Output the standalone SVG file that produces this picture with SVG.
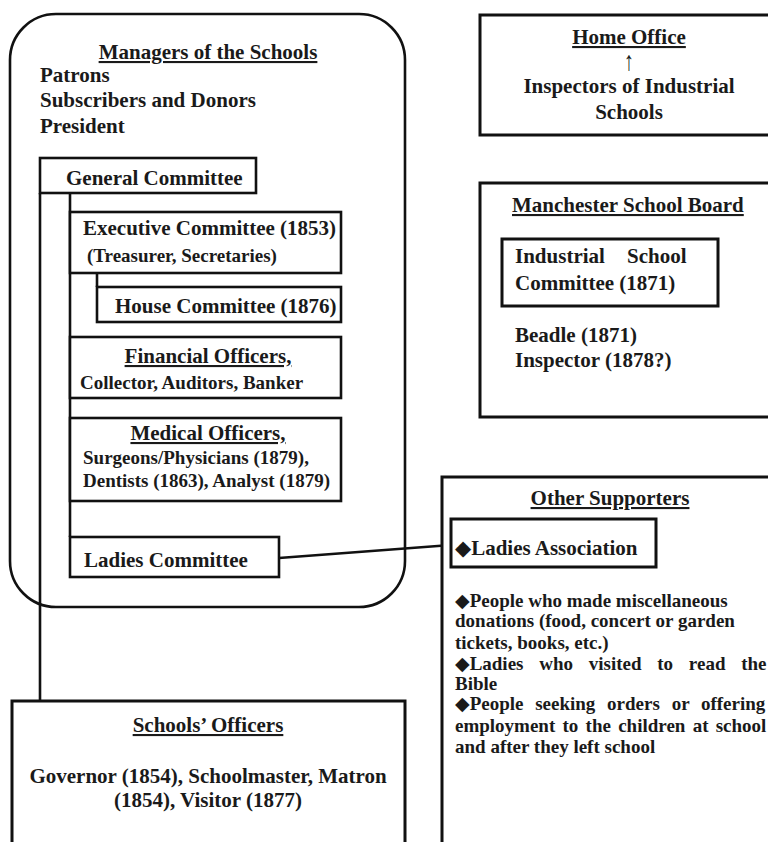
<svg xmlns="http://www.w3.org/2000/svg" width="768" height="842" viewBox="0 0 768 842">
<style>
  .box{fill:#fff;stroke:#111;stroke-width:3}
  .ibox{fill:#fff;stroke:#111;stroke-width:2.6}
  .ln{stroke:#111;stroke-width:2.6;fill:none}
  text{font-family:"Liberation Serif","Times New Roman",serif;font-weight:bold;fill:#1a1a1a;font-size:21px}
  .s{font-size:19px}
  .u{text-decoration:underline}
  .c{text-anchor:middle}
  .b{font-family:"Liberation Serif","DejaVu Sans",serif}
  .t{font-family:"Liberation Serif",serif}
</style>
<rect width="768" height="842" fill="#fff"/>

<g id="managers">
  <rect x="10" y="14" width="395" height="593" rx="46" ry="46" fill="#fff" stroke="#111" stroke-width="2.6"/>
  <text class="c u" x="208" y="59">Managers of the Schools</text>
  <text x="40" y="82">Patrons</text>
  <text x="40" y="107">Subscribers and Donors</text>
  <text x="40" y="133">President</text>
</g>

<g id="connectors">
  <line class="ln" x1="40" y1="193" x2="40" y2="701"/>
  <line class="ln" x1="70" y1="193" x2="70" y2="537"/>
  <line class="ln" x1="97" y1="273" x2="97" y2="287"/>
  <line class="ln" x1="279" y1="558" x2="451" y2="545"/>
</g>

<g id="general-committee">
  <rect class="ibox" x="40" y="158" width="216" height="35"/>
  <text x="66" y="185">General Committee</text>
</g>

<g id="executive-committee">
  <rect class="ibox" x="70" y="212" width="271" height="61"/>
  <text x="83" y="235">Executive Committee (1853)</text>
  <text class="s" x="87" y="262">(Treasurer, Secretaries)</text>
</g>

<g id="house-committee">
  <rect class="ibox" x="97" y="287" width="244" height="35"/>
  <text x="115" y="313">House Committee (1876)</text>
</g>

<g id="financial-officers">
  <rect class="ibox" x="70" y="337" width="271" height="61"/>
  <text class="c u" x="208" y="363">Financial Officers,</text>
  <text class="s" x="80" y="389">Collector, Auditors, Banker</text>
</g>

<g id="medical-officers">
  <rect class="ibox" x="70" y="418" width="271" height="83"/>
  <text class="c u" x="208" y="440">Medical Officers,</text>
  <text class="s" x="83" y="464">Surgeons/Physicians (1879),</text>
  <text class="s" x="83" y="487">Dentists (1863), Analyst (1879)</text>
</g>

<g id="ladies-committee">
  <rect class="ibox" x="70" y="537" width="209" height="40"/>
  <text x="84" y="567">Ladies Committee</text>
</g>

<g id="schools-officers">
  <rect class="box" x="12" y="701" width="393" height="160"/>
  <text class="c u" x="208" y="732">Schools’ Officers</text>
  <text class="c" x="208" y="783">Governor (1854), Schoolmaster, Matron</text>
  <text class="c" x="208" y="807">(1854), Visitor (1877)</text>
</g>

<g id="home-office">
  <rect class="box" x="480" y="15" width="300" height="120"/>
  <text class="c u" x="629" y="44">Home Office</text>
  <text class="c" transform="translate(629,70) scale(1,1.35)" x="0" y="0" style="font-weight:normal;font-size:20px">↑</text>
  <text class="c" x="629" y="93">Inspectors of Industrial</text>
  <text class="c" x="629" y="119">Schools</text>
</g>

<g id="manchester-school-board">
  <rect class="box" x="480" y="183" width="300" height="234"/>
  <text class="u" x="512" y="212">Manchester School Board</text>
  <text x="515" y="342">Beadle (1871)</text>
  <text x="515" y="367">Inspector (1878?)</text>
</g>

<g id="industrial-school-committee">
  <rect class="box" x="502" y="239" width="216" height="67"/>
  <text x="515" y="263" style="word-spacing:17px">Industrial School</text>
  <text x="515" y="290">Committee (1871)</text>
</g>

<g id="other-supporters">
  <rect class="box" x="442" y="477" width="340" height="380"/>
  <text class="c u" x="610" y="505">Other Supporters</text>
  <text class="s b" x="455" y="607">◆<tspan class="t">People who made miscellaneous</tspan></text>
  <text class="s" x="455" y="627">donations (food, concert or garden</text>
  <text class="s" x="455" y="649">tickets, books, etc.)</text>
  <text class="s b" x="455" y="670" style="word-spacing:11px">◆<tspan class="t">Ladies who visited to read the</tspan></text>
  <text class="s" x="455" y="690">Bible</text>
  <text class="s b" x="455" y="710" style="word-spacing:7px">◆<tspan class="t">People seeking orders or offering</tspan></text>
  <text class="s" x="455" y="732" style="word-spacing:2.5px">employment to the children at school</text>
  <text class="s" x="455" y="753">and after they left school</text>
</g>

<g id="ladies-association">
  <rect class="box" x="451" y="519" width="205" height="48"/>
  <text class="b" x="455" y="555">◆<tspan class="t">Ladies Association</tspan></text>
</g>
</svg>
